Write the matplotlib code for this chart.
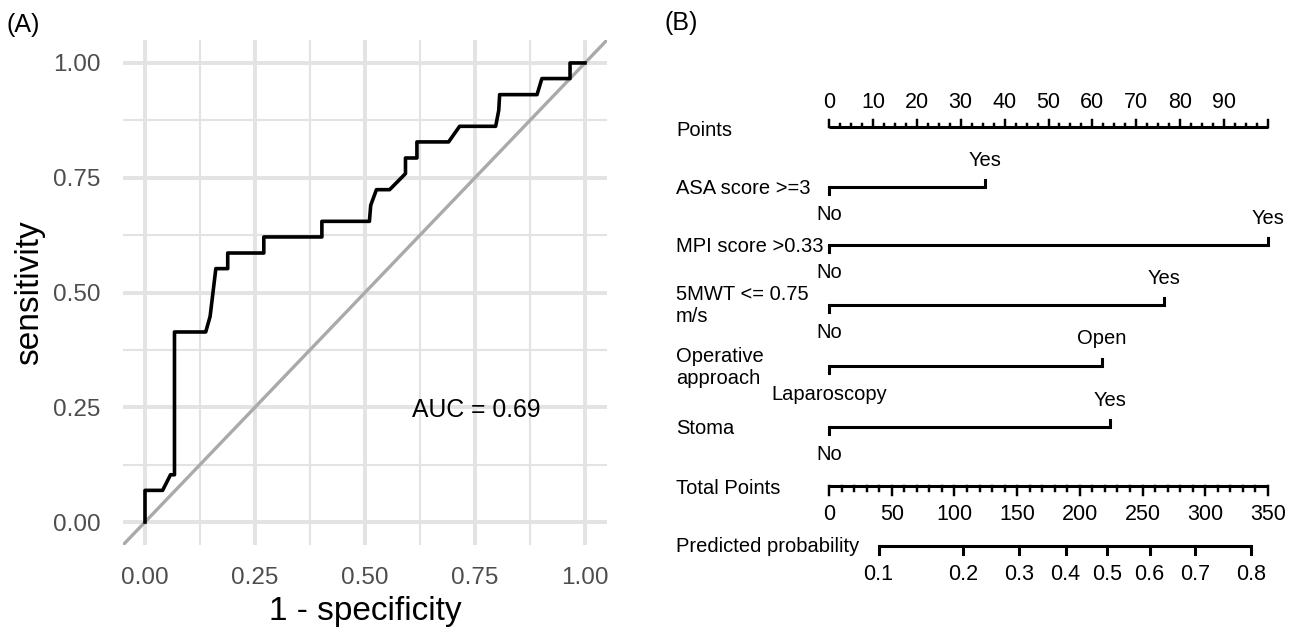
import matplotlib.pyplot as plt

plt.rcParams["font.family"] = ["Liberation Sans", "DejaVu Sans"]

# ---- (A) ROC curve data ----
fpr = [0, 0, 0.040, 0.058, 0.067, 0.067, 0.138, 0.148, 0.161, 0.188, 0.188,
       0.270, 0.270, 0.402, 0.402, 0.510, 0.513, 0.526, 0.556, 0.592, 0.592,
       0.618, 0.618, 0.690, 0.715, 0.797, 0.804, 0.806, 0.891, 0.902, 0.966,
       0.966, 1.0]
tpr = [0, 0.069, 0.069, 0.103, 0.103, 0.414, 0.414, 0.448, 0.552, 0.552, 0.586,
       0.586, 0.621, 0.621, 0.655, 0.655, 0.690, 0.724, 0.724, 0.759, 0.793,
       0.793, 0.828, 0.828, 0.862, 0.862, 0.897, 0.931, 0.931, 0.966, 0.966,
       1.0, 1.0]
auc_label = "AUC = 0.69"
roc_ticks = [0.00, 0.25, 0.50, 0.75, 1.00]

# ---- (B) nomogram data ----
var_names = ["ASA score >=3", "MPI score >0.33", "5MWT <= 0.75\nm/s",
             "Operative\napproach", "Stoma"]
low_levels = ["No", "No", "No", "Laparoscopy", "No"]
high_levels = ["Yes", "Yes", "Yes", "Open", "Yes"]
high_points = [35.6, 100.0, 76.2, 62.1, 64.0]

points_major = list(range(0, 101, 10))
points_labels = [str(v) for v in range(0, 91, 10)]
total_major = list(range(0, 351, 50))
total_max = 350
prob_labels = ["0.1", "0.2", "0.3", "0.4", "0.5", "0.6", "0.7", "0.8"]
prob_total_pts = [39.5, 107.0, 151.6, 188.7, 221.7, 255.6, 292.1, 336.5]

W, H = 1296, 633
fig = plt.figure(figsize=(W / 100, H / 100), dpi=100)

# ---------------- panel A ----------------
ax = fig.add_axes([123 / W, 1 - 545 / H, (607 - 123) / W, (545 - 40) / H])
ax.set_xlim(-0.05, 1.05)
ax.set_ylim(-0.05, 1.05)
for s in ax.spines.values():
    s.set_visible(False)
ax.set_xticks(roc_ticks)
ax.set_yticks(roc_ticks)
ax.set_xticklabels([f"{t:.2f}" for t in roc_ticks])
ax.set_yticklabels([f"{t:.2f}" for t in roc_ticks])
ax.set_xticks([0.125, 0.375, 0.625, 0.875], minor=True)
ax.set_yticks([0.125, 0.375, 0.625, 0.875], minor=True)
ax.tick_params(which="both", length=0, labelsize=17.5, labelcolor="#4d4d4d")
ax.tick_params(axis="y", pad=16)
ax.tick_params(axis="x", pad=16)
ax.grid(which="major", color="#e3e3e3", lw=2.8)
ax.grid(which="minor", color="#e3e3e3", lw=1.5)
ax.set_axisbelow(True)
ax.axline((0, 0), (1, 1), color="#aaaaaa", lw=2.4)
ax.plot(fpr, tpr, color="black", lw=2.6)
ax.text(0.752, 0.245, auc_label, fontsize=17.8, ha="center", va="center")
ax.set_xlabel("1 - specificity", fontsize=24, labelpad=5)
ax.set_ylabel("sensitivity", fontsize=24, labelpad=6)
fig.text(7 / W, 1 - 25 / H, "(A)", fontsize=18, va="center")
fig.text(664 / W, 1 - 23 / H, "(B)", fontsize=18, va="center")

# ---------------- panel B ----------------
bx = fig.add_axes([660 / W, 0, (W - 660) / W, 1])
px_per_pt = (1268 - 829) / 100
bx.set_xlim((660 - 829) / px_per_pt, (W - 829) / px_per_pt)
bx.set_ylim(H, 0)
bx.axis("off")

lab_x = (676 - 829) / px_per_pt
fs_lab = 14.5
fs_num = 15.5
lw = 2.2

# Points scale
y_pts = 127
bx.plot([0, 100], [y_pts, y_pts], color="black", lw=lw, solid_capstyle="butt")
minor = [i * 2.5 for i in range(41)]
for v in minor:
    h = 7 if v in points_major else 3.5
    bx.plot([v, v], [y_pts, y_pts - h], color="black", lw=lw * 0.8)
for i, t in enumerate(points_labels):
    bx.text(points_major[i], 102, t, fontsize=fs_num, ha="center", va="center")
bx.text(lab_x, 130, "Points", fontsize=fs_lab, ha="left", va="center")

# variable rows
row_y = [187, 245, 305, 366, 427]
for name, lo, hi, hp, y in zip(var_names, low_levels, high_levels, high_points, row_y):
    bx.plot([0, hp], [y, y], color="black", lw=lw, solid_capstyle="butt")
    bx.plot([0, 0], [y, y + 7], color="black", lw=lw)
    bx.plot([hp, hp], [y, y - 7], color="black", lw=lw)
    bx.text(lab_x, y + 1, name, fontsize=fs_lab, ha="left", va="center",
            linespacing=1.2)
    bx.text(0, y + 28, lo, fontsize=fs_lab, ha="center", va="center")
    bx.text(hp, y - 27, hi, fontsize=fs_lab, ha="center", va="center")

# Total points scale
y_tot = 486
scale = 100 / total_max
bx.plot([0, 100], [y_tot, y_tot], color="black", lw=lw, solid_capstyle="butt")
for v in range(0, total_max + 1, 10):
    h = 9 if v in total_major else 5
    bx.plot([v * scale] * 2, [y_tot, y_tot + h], color="black", lw=lw * 0.8)
for v in total_major:
    bx.text(v * scale, 514, str(v), fontsize=fs_num, ha="center", va="center")
bx.text(lab_x, 489, "Total Points", fontsize=fs_lab, ha="left", va="center")

# Predicted probability scale
y_pr = 546
xs = [p * scale for p in prob_total_pts]
bx.plot([xs[0], xs[-1]], [y_pr, y_pr], color="black", lw=lw, solid_capstyle="butt")
for x, t in zip(xs, prob_labels):
    bx.plot([x, x], [y_pr, y_pr + 8], color="black", lw=lw)
    bx.text(x, 574, t, fontsize=fs_num, ha="center", va="center")
bx.text(lab_x, 546, "Predicted probability", fontsize=fs_lab, ha="left", va="center")

fig.savefig("out.png", dpi=100)
